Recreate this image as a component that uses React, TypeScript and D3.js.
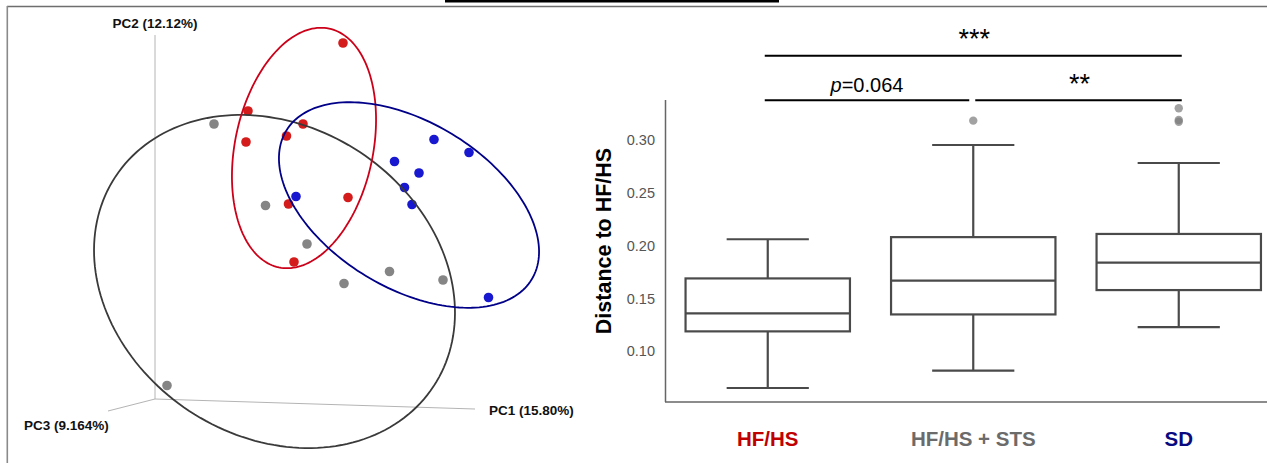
import React from "react";
import * as d3 from "d3";

// ---------- PCoA data (PC1, PC2 projected) ----------
const hfhsPoints: [number, number][] = [
  [0.086, 0.314], [-0.104, 0.178], [0.006, 0.152], [-0.027, 0.128],
  [-0.108, 0.116], [0.096, 0.005], [-0.023, -0.008], [-0.012, -0.124],
];
const stsPoints: [number, number][] = [
  [-0.172, 0.152], [-0.069, -0.011], [0.014, -0.088], [0.179, -0.143],
  [0.088, -0.167], [0.286, -0.160], [-0.266, -0.371],
];
const sdPoints: [number, number][] = [
  [0.268, 0.121], [0.338, 0.095], [0.189, 0.077], [0.238, 0.054],
  [0.209, 0.025], [0.224, -0.009], [-0.008, 0.007], [0.377, -0.195],
];
// ellipses: [cx, cy, semi-major, semi-minor, angle(deg)]
const hfhsEllipse = [0.008, 0.104, 0.244, 0.138, 78.1];
const stsEllipse = [-0.051, -0.163, 0.381, 0.31, -33.4];
const sdEllipse = [0.218, -0.01, 0.287, 0.166, -31.2];
// 3D axes
const axisOrigin: [number, number] = [-0.29, -0.398];
const pc1End: [number, number] = [0.35, -0.418];
const pc2End: [number, number] = [-0.29, 0.33];
const pc3End: [number, number] = [-0.384, -0.422];
const axisLabels = ["PC1 (15.80%)", "PC2 (12.12%)", "PC3 (9.164%)"];

// ---------- Box plot data ----------
const categories = ["HF/HS", "HF/HS + STS", "SD"];
const categoryColors = ["#c00000", "#6b6b6b", "#0a0a80"];
const whiskerLow = [0.0655, 0.082, 0.123];
const q1 = [0.119, 0.135, 0.158];
const median = [0.136, 0.167, 0.184];
const q3 = [0.169, 0.208, 0.211];
const whiskerHigh = [0.206, 0.295, 0.278];
const outliers: [number, number][] = [[1, 0.318], [2, 0.3297], [2, 0.3186], [2, 0.317]];
const yTicks = [0.1, 0.15, 0.2, 0.25, 0.3];
const comparisons = [
  { from: 0, to: 2, label: "***", level: 2 },
  { from: 0, to: 1, label: "p=0.064", level: 1 },
  { from: 1, to: 2, label: "**", level: 1 },
];

export default function App() {
  const W = 1267, H = 463;
  // PCoA scales
  const px = d3.scaleLinear().domain([-0.5, 0.5]).range([50, 550]);
  const py = d3.scaleLinear().domain([-0.5, 0.5]).range([450, -50]);
  const line = d3.line<[number, number]>().x((d) => px(d[0])).y((d) => py(d[1])).curve(d3.curveLinearClosed);
  const ellipsePath = (e: number[]) => {
    const [cx, cy, a, b, ang] = e;
    const phi = (ang * Math.PI) / 180;
    const pts: [number, number][] = d3.range(0, 2 * Math.PI, Math.PI / 90).map((t) => {
      const ex = a * Math.cos(t), ey = b * Math.sin(t);
      return [cx + ex * Math.cos(phi) - ey * Math.sin(phi), cy + ex * Math.sin(phi) + ey * Math.cos(phi)];
    });
    return line(pts) || "";
  };
  const groups = [
    { pts: stsPoints, ell: stsEllipse, fill: "#858585", stroke: "#3a3a3a" },
    { pts: hfhsPoints, ell: hfhsEllipse, fill: "#d41c1c", stroke: "#cc0018" },
    { pts: sdPoints, ell: sdEllipse, fill: "#1818d0", stroke: "#000088" },
  ];

  // Box plot scales
  const x = d3.scaleBand().domain(categories).range([665, 1281.5]).paddingInner(0.2).paddingOuter(0.1);
  const y = d3.scaleLinear().domain([0.0523, 0.3375]).range([402, 100]);
  const bw = x.bandwidth();
  const cx = (i: number) => (x(categories[i]) as number) + bw / 2;
  const levelY = [0, y(0.3378) + 0.5, 55.7];
  const boxStroke = "#4a4a4a";

  return (
    <svg width={W} height={H} style={{ position: "absolute", left: 0, top: 0, background: "#fff" }}
      fontFamily="'Liberation Sans', Arial, sans-serif">
      {/* cut-off title underline */}
      <rect x={445} y={0} width={334} height={2.5} fill="#000" />
      {/* frame */}
      <line x1={7} y1={6.5} x2={W} y2={6.5} stroke="#6e6e6e" strokeWidth={1.6} />
      <line x1={7.3} y1={6} x2={7.3} y2={H} stroke="#8a8a8a" strokeWidth={1.6} />

      {/* ===== PCoA ===== */}
      <g stroke="#b4b4b4" strokeWidth={1}>
        <line x1={px(axisOrigin[0])} y1={py(axisOrigin[1])} x2={px(pc2End[0])} y2={py(pc2End[1])} />
        <line x1={px(axisOrigin[0])} y1={py(axisOrigin[1])} x2={px(pc1End[0])} y2={py(pc1End[1])} />
        <line x1={px(axisOrigin[0])} y1={py(axisOrigin[1])} x2={px(pc3End[0])} y2={py(pc3End[1])} />
      </g>
      <g fontSize={13.5} fontWeight="bold" fill="#111">
        <text x={px(pc1End[0]) + 14} y={py(pc1End[1]) + 6}>{axisLabels[0]}</text>
        <text x={px(pc2End[0])} y={py(pc2End[1]) - 7.5} textAnchor="middle">{axisLabels[1]}</text>
        <text x={px(pc3End[0]) - 84} y={py(pc3End[1]) + 19}>{axisLabels[2]}</text>
      </g>
      {groups.map((g, gi) => (
        <g key={"p" + gi}>
          {g.pts.map((p, i) => (
            <circle key={i} cx={px(p[0])} cy={py(p[1])} r={4.8} fill={g.fill} />
          ))}
        </g>
      ))}
      {groups.map((g, gi) => (
        <path key={"e" + gi} d={ellipsePath(g.ell)} fill="none" stroke={g.stroke} strokeWidth={1.8} />
      ))}

      {/* ===== Box plot ===== */}
      <line x1={665.5} y1={100} x2={665.5} y2={402} stroke="#666" strokeWidth={1.5} />
      <line x1={665} y1={402} x2={W} y2={402} stroke="#666" strokeWidth={1.5} />
      {yTicks.map((t) => (
        <text key={t} x={655} y={y(t) + 5} textAnchor="end" fontSize={14.5} fill="#555">{t.toFixed(2)}</text>
      ))}
      <text transform={`translate(611,${241}) rotate(-90)`} textAnchor="middle" fontSize={21.5} fontWeight="bold" fill="#000">Distance to HF/HS</text>
      {categories.map((c, i) => {
        const c0 = cx(i);
        const x0 = x(c) as number;
        return (
          <g key={c} stroke={boxStroke} strokeWidth={2.2} fill="none">
            <line x1={c0} x2={c0} y1={y(whiskerHigh[i])} y2={y(q3[i])} />
            <line x1={c0} x2={c0} y1={y(q1[i])} y2={y(whiskerLow[i])} />
            <line x1={c0 - bw / 4} x2={c0 + bw / 4} y1={y(whiskerHigh[i])} y2={y(whiskerHigh[i])} />
            <line x1={c0 - bw / 4} x2={c0 + bw / 4} y1={y(whiskerLow[i])} y2={y(whiskerLow[i])} />
            <rect x={x0} y={y(q3[i])} width={bw} height={y(q1[i]) - y(q3[i])} fill="#fff" />
            <line x1={x0} x2={x0 + bw} y1={y(median[i])} y2={y(median[i])} />
          </g>
        );
      })}
      {outliers.map((o, i) => (
        <circle key={i} cx={cx(o[0])} cy={y(o[1])} r={4.2} fill="#7a7a7a" fillOpacity={0.7} />
      ))}
      {categories.map((c, i) => (
        <text key={c} x={cx(i)} y={446} textAnchor="middle" fontSize={20.5} fontWeight="bold" fill={categoryColors[i]}>{c}</text>
      ))}
      {comparisons.map((cmp, i) => {
        const x1 = cx(cmp.from) + (cmp.from === 0 ? -3 : 2);
        const x2 = cx(cmp.to) + (cmp.to === categories.length - 1 ? 3 : -4);
        const ly = levelY[cmp.level];
        const isP = cmp.label.startsWith("p");
        return (
          <g key={i}>
            <line x1={x1} x2={x2} y1={ly} y2={ly} stroke="#000" strokeWidth={2} />
            {isP ? (
              <text x={(x1 + x2) / 2} y={ly - 8.5} textAnchor="middle" fontSize={20} fill="#000">
                <tspan fontStyle="italic">p</tspan>
                <tspan>{cmp.label.slice(1)}</tspan>
              </text>
            ) : (
              <text x={(x1 + x2) / 2 + 1} y={ly + (cmp.level === 2 ? -8 : -7)} textAnchor="middle" fontSize={27} fill="#000">{cmp.label}</text>
            )}
          </g>
        );
      })}
    </svg>
  );
}
